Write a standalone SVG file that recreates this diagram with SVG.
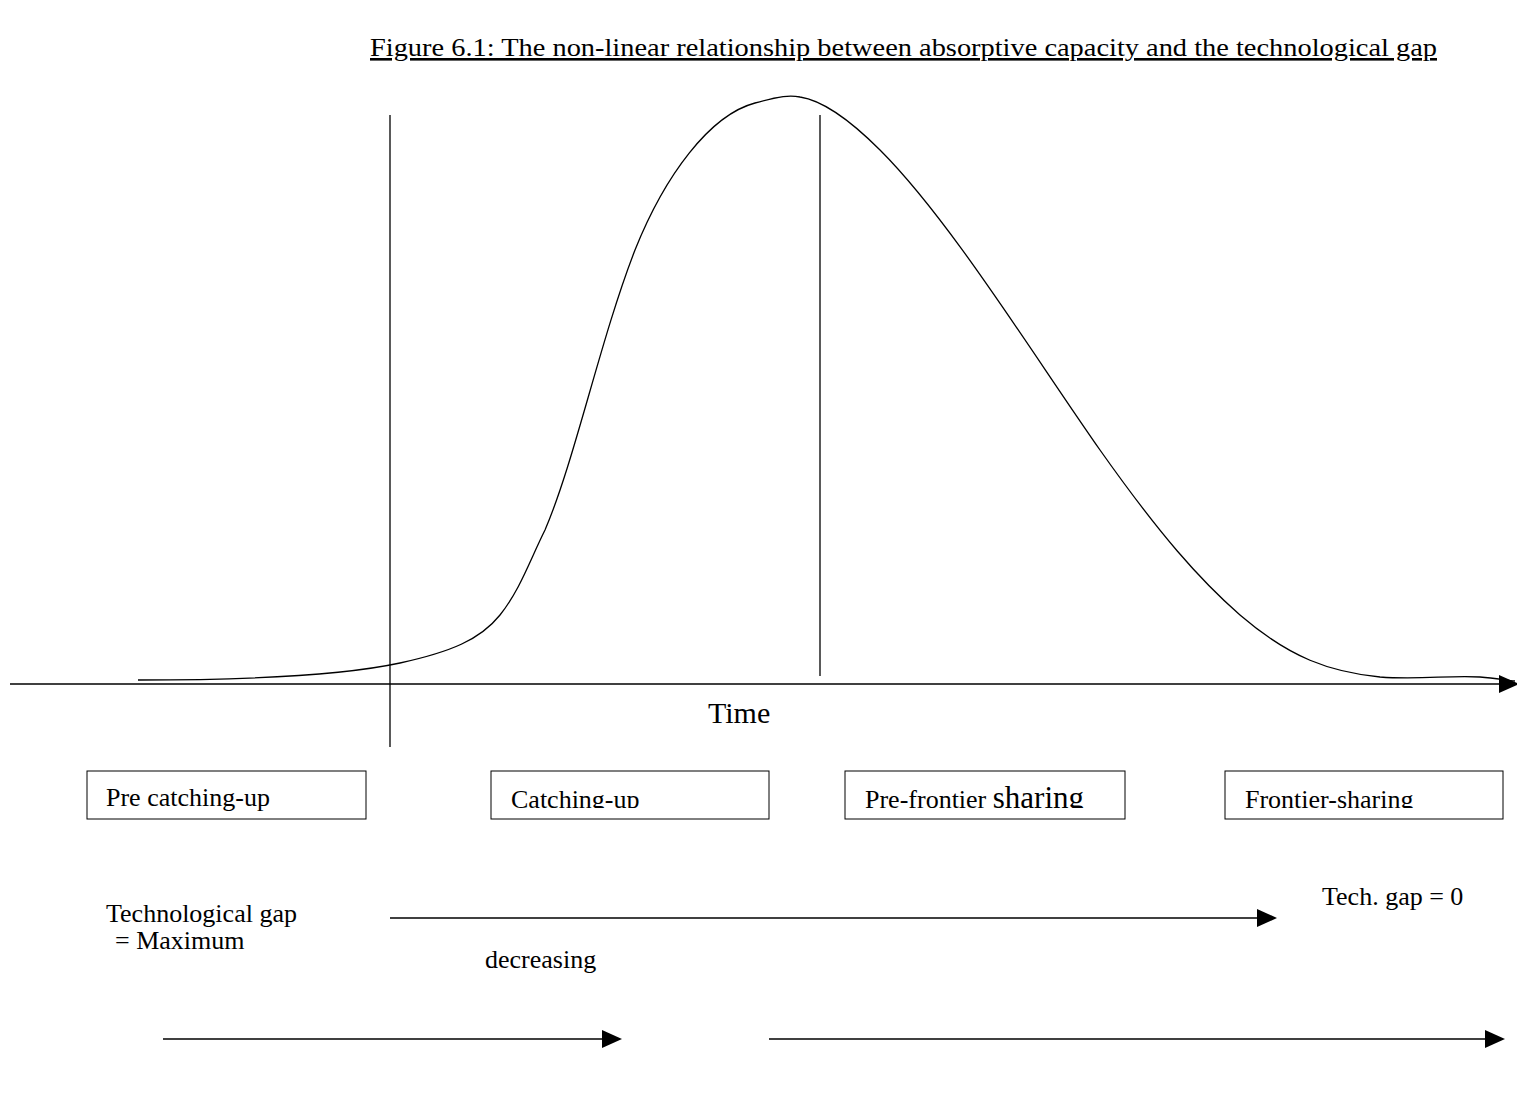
<svg xmlns="http://www.w3.org/2000/svg" width="1517" height="1105" viewBox="0 0 1517 1105">
<style>
text{font-family:"Liberation Serif","Times New Roman",serif;fill:#000}
.ln{stroke:#000;stroke-width:1.3;fill:none}
.box{fill:#fff;stroke:#000;stroke-width:1}
.t{font-size:26px}
</style>
<defs>
<marker id="ah2" viewBox="0 0 10 10" refX="9" refY="5" markerWidth="20" markerHeight="20" markerUnits="userSpaceOnUse" orient="auto">
<path d="M0,0.5 L10,5 L0,9.5 z" fill="#000"/>
</marker>
<clipPath id="c2"><rect x="491" y="771" width="278" height="37"/></clipPath>
<clipPath id="c3"><rect x="845" y="771" width="280" height="37"/></clipPath>
<clipPath id="c4"><rect x="1225" y="771" width="278" height="37"/></clipPath>
</defs>
<rect width="1517" height="1105" fill="#fff"/>
<text x="370" y="56" font-size="26" textLength="1067" lengthAdjust="spacingAndGlyphs" text-decoration="underline">Figure 6.1: The non-linear relationship between absorptive capacity and the technological gap</text>
<g id="connectors">
<path class="ln" d="M10,684 H1517" marker-end="url(#ah2)"/>
<path class="ln" d="M390,115 V747"/>
<path class="ln" d="M820,115 V676"/>
<path class="ln" stroke-width="1.6" d="M138,680 C250,680 340,676 400,663 C450,652 480,640 500,615 C520,590 530,560 545,530 C575,460 600,340 635,250 C665,175 710,115 755,103 C780,96 790,95 800,97 C820,100 845,115 880,150 C950,220 1030,350 1100,450 C1160,535 1200,580 1240,615 C1290,658 1330,672 1380,677 C1420,680 1450,675 1480,677 C1495,678 1505,680 1515,681"/>
<path class="ln" d="M390,918 H1275" marker-end="url(#ah2)"/>
<path class="ln" d="M163,1039 H620" marker-end="url(#ah2)"/>
<path class="ln" d="M769,1039 H1503" marker-end="url(#ah2)"/>
</g>
<text x="708" y="723" font-size="30">Time</text>
<g id="pre-catching-up">
<rect class="box" x="87" y="771" width="279" height="48"/>
<text class="t" x="106" y="806">Pre catching-up</text>
</g>
<g id="catching-up">
<rect class="box" x="491" y="771" width="278" height="48"/>
<text class="t" x="511" y="808" clip-path="url(#c2)">Catching-up</text>
</g>
<g id="pre-frontier-sharing">
<rect class="box" x="845" y="771" width="280" height="48"/>
<text class="t" x="865" y="808" clip-path="url(#c3)">Pre-frontier <tspan font-size="31">sharing</tspan></text>
</g>
<g id="frontier-sharing">
<rect class="box" x="1225" y="771" width="278" height="48"/>
<text class="t" x="1245" y="808" clip-path="url(#c4)">Frontier-sharing</text>
</g>
<text class="t" x="106" y="922">Technological gap</text>
<text class="t" x="115" y="949">= Maximum</text>
<text class="t" x="485" y="968">decreasing</text>
<text class="t" x="1322" y="905">Tech. gap = 0</text>
</svg>
